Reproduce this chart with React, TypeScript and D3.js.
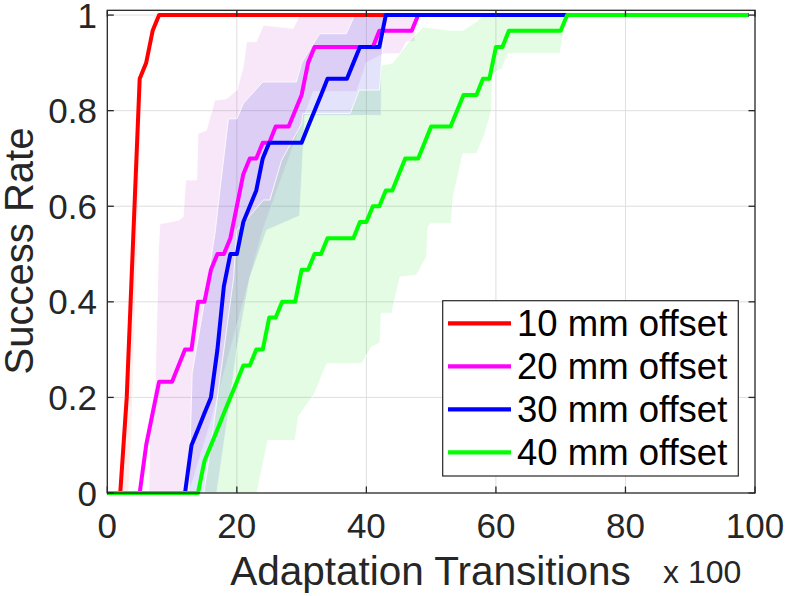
import React from 'react';
import * as d3 from 'd3';

type Pt = [number, number];

const seriesNames = ['10 mm offset', '20 mm offset', '30 mm offset', '40 mm offset'];
const seriesColors = ['#ff0000', '#ff00ff', '#0000ff', '#00ff00'];
const bandColors = ['rgb(255,40,40)', 'rgb(200,60,200)', 'rgb(60,60,230)', 'rgb(40,230,40)'];
const bandOpacity = [0.08, 0.12, 0.14, 0.13];

const xTicks = [0, 20, 40, 60, 80, 100];
const yTicks = [0, 0.2, 0.4, 0.6, 0.8, 1];
const yTickLabels = ['0', '0.2', '0.4', '0.6', '0.8', '1'];

// mean success rate curves (x in units of 100 transitions)
const rate10: Pt[] = [[0, 0], [2, 0], [3, 0.2], [4, 0.533], [5, 0.867], [6, 0.9], [7, 0.967], [8, 1], [99, 1]];
const rate20: Pt[] = [[0, 0], [5, 0], [6, 0.1], [7, 0.167], [8, 0.233], [10, 0.233], [12, 0.3], [13, 0.3], [14, 0.4], [15, 0.4],
  [16, 0.467], [17, 0.5], [18, 0.5], [19, 0.533], [20, 0.6], [21, 0.667], [22, 0.7], [23, 0.7], [24, 0.733], [25, 0.733],
  [26, 0.767], [28, 0.767], [29, 0.8], [30, 0.833], [31, 0.9], [32, 0.933], [41, 0.933], [42, 0.967], [47, 0.967], [48, 1], [99, 1]];
const rate30: Pt[] = [[0, 0], [12, 0], [13, 0.1], [14, 0.133], [15, 0.167], [16, 0.2], [17, 0.3], [18, 0.433], [19, 0.5], [20, 0.5],
  [21, 0.567], [22, 0.6], [23, 0.633], [24, 0.7], [25, 0.733], [30, 0.733], [31, 0.767], [32, 0.8], [33, 0.833], [34, 0.867],
  [37, 0.867], [38, 0.9], [39, 0.933], [42, 0.933], [43, 1], [99, 1]];
const rate40: Pt[] = [[0, 0], [14, 0], [15, 0.067], [16, 0.1], [17, 0.133], [18, 0.167], [19, 0.2], [20, 0.233], [21, 0.267],
  [22, 0.267], [23, 0.3], [24, 0.3], [25, 0.367], [26, 0.367], [27, 0.4], [29, 0.4], [30, 0.467], [31, 0.467], [32, 0.5],
  [33, 0.5], [34, 0.533], [38, 0.533], [39, 0.567], [40, 0.567], [41, 0.6], [42, 0.6], [43, 0.633], [44, 0.633], [46, 0.7],
  [48, 0.7], [50, 0.767], [53, 0.767], [55, 0.833], [57, 0.833], [58, 0.867], [59, 0.867], [60, 0.933], [61, 0.933],
  [62, 0.967], [70, 0.967], [71, 1], [99, 1]];

// spread bands: upper (left) and lower (right) edges
const upper10: Pt[] = [[1.9, 0], [2.9, 0.2], [3.8, 0.52], [4.9, 0.87], [5.8, 0.9], [6.9, 0.98], [7.2, 1]];
const lower10: Pt[] = [[3.3, 0], [3.8, 0.15], [4.6, 0.5], [5.4, 0.87], [6.3, 0.92], [7.3, 0.97], [8, 1]];
const upper20: Pt[] = [[6.4, 0], [6.6, 0.15], [7.4, 0.236], [7.9, 0.508], [8.1, 0.563], [11.1, 0.571], [11.7, 0.578], [12.1, 0.655],
  [13.8, 0.655], [14, 0.752], [15.3, 0.759], [16.6, 0.822], [18.4, 0.825], [20, 0.843], [21, 0.892], [21.5, 0.944], [23, 0.944],
  [24.1, 0.979], [28.7, 0.972], [29.7, 1]];
const lower20: Pt[] = [[12.6, 0], [16, 0.15], [20, 0.35], [24, 0.55], [28, 0.7], [31.8, 0.84], [38.5, 0.84], [40, 0.9], [42.6, 0.919],
  [45.2, 0.919], [46.2, 0.944], [47.5, 0.944], [47.5, 1]];
const upper30: Pt[] = [[12.6, 0], [13.1, 0.25], [15, 0.4], [16.7, 0.55], [17.1, 0.6], [18.7, 0.783], [20, 0.783], [21, 0.815],
  [24, 0.86], [29.2, 0.86], [30, 0.9], [32.8, 0.961], [36.9, 0.961], [38.2, 1]];
const lower30: Pt[] = [[16.9, 0], [18.5, 0.15], [20, 0.3], [22, 0.45], [24.6, 0.55], [29.7, 0.58], [30, 0.66], [30.5, 0.79],
  [42.3, 0.79], [42.3, 0.9], [43, 1]];
const upper40: Pt[] = [[14.9, 0], [16, 0.1], [17.5, 0.25], [19.5, 0.45], [20, 0.55], [22, 0.58], [24.1, 0.613], [25.1, 0.613],
  [26.9, 0.696], [30, 0.773], [30.2, 0.794], [37.5, 0.794], [38.9, 0.843], [42, 0.843], [42.3, 0.895], [44.1, 0.9], [46.7, 0.947],
  [48.8, 0.975], [52.9, 0.968], [54.9, 0.968], [57, 0.986], [58, 1]];
const lower40: Pt[] = [[23.1, 0], [24.8, 0.11], [29, 0.11], [29.5, 0.16], [32, 0.208], [33.9, 0.271], [39.3, 0.271], [40.8, 0.306],
  [42.1, 0.314], [42.3, 0.376], [43.9, 0.376], [45.2, 0.452], [47.7, 0.456], [49.3, 0.494], [49.5, 0.557], [50, 0.564],
  [53.1, 0.564], [53.4, 0.62], [54.9, 0.71], [57, 0.71], [58.3, 0.752], [59.3, 0.8], [59.5, 0.877], [60.9, 0.888], [61.9, 0.92],
  [69.9, 0.92], [70.9, 1]];

const rates = [rate10, rate20, rate30, rate40];
const uppers = [upper10, upper20, upper30, upper40];
const lowers = [lower10, lower20, lower30, lower40];

const W = 787;
const H = 596;
const left = 107.3;
const right = 755;
const top = 10.3;
const bottom = 493;
const font = 'Liberation Sans, Arial, sans-serif';
const axisColor = '#262626';

export default function App() {
  const x = d3.scaleLinear().domain([0, 100]).range([left, right]);
  const y = d3.scaleLinear().domain([0, 1.01]).range([bottom, top]);
  const line = d3.line<Pt>().x(d => x(d[0])).y(d => y(d[1]));

  const bandPath = (up: Pt[], lo: Pt[]) => {
    const pts: Pt[] = [...up, [up[up.length - 1][0], 1], [lo[lo.length - 1][0], 1], ...lo.slice().reverse()];
    return line(pts) + 'Z';
  };

  const tick = 6.5;

  return (
    <svg width={W} height={H} style={{ position: 'absolute', left: 0, top: 0, display: 'block' }} fontFamily={font}>
      <rect width={W} height={H} fill="#fff" />

      {/* grid */}
      {xTicks.slice(1, -1).map(t => (
        <line key={'gx' + t} x1={x(t)} x2={x(t)} y1={top} y2={bottom} stroke="#dedede" strokeWidth={1} />
      ))}
      {yTicks.slice(1).map(t => (
        <line key={'gy' + t} x1={left} x2={right} y1={y(t)} y2={y(t)} stroke="#dedede" strokeWidth={1} />
      ))}

      {/* bands */}
      {uppers.map((up, i) => (
        <path key={'b' + i} d={bandPath(up, lowers[i])} fill={bandColors[i]} fillOpacity={bandOpacity[i]}
          stroke="#fff" strokeWidth={0.9} strokeOpacity={0.9} />
      ))}

      {/* mean curves */}
      {rates.map((r, i) => (
        <path key={'l' + i} d={line(r) || ''} fill="none" stroke={seriesColors[i]} strokeWidth={4} strokeLinejoin="round" />
      ))}

      {/* axes box and ticks */}
      <rect x={left} y={top} width={right - left} height={bottom - top} fill="none" stroke={axisColor} strokeWidth={1.3} />
      {xTicks.map(t => (
        <g key={'tx' + t}>
          <line x1={x(t)} x2={x(t)} y1={bottom} y2={bottom - tick} stroke={axisColor} strokeWidth={1.3} />
          <line x1={x(t)} x2={x(t)} y1={top} y2={top + tick} stroke={axisColor} strokeWidth={1.3} />
          <text x={x(t)} y={538} textAnchor="middle" fontSize={35} fill={axisColor}>{t}</text>
        </g>
      ))}
      {yTicks.map((t, i) => (
        <g key={'ty' + t}>
          <line x1={left} x2={left + tick} y1={y(t)} y2={y(t)} stroke={axisColor} strokeWidth={1.3} />
          <line x1={right} x2={right - tick} y1={y(t)} y2={y(t)} stroke={axisColor} strokeWidth={1.3} />
          <text x={97} y={y(t) + 12.5} textAnchor="end" fontSize={35} fill={axisColor}>{yTickLabels[i]}</text>
        </g>
      ))}

      {/* axis labels */}
      <text x={430.5} y={585} textAnchor="middle" fontSize={40.5} fill={axisColor}>Adaptation Transitions</text>
      <text x={663} y={583} fontSize={32} fill={axisColor}>x 100</text>
      <text transform="translate(33,251) rotate(-90)" textAnchor="middle" fontSize={40} fill={axisColor}>Success Rate</text>

      {/* legend */}
      <rect x={442.7} y={300.7} width={295.6} height={175.3} fill="#fff" stroke={axisColor} strokeWidth={1.2} />
      {seriesNames.map((n, i) => {
        const ly = 323.3 + i * 43;
        return (
          <g key={'lg' + i}>
            <line x1={448} x2={511} y1={ly} y2={ly} stroke={seriesColors[i]} strokeWidth={4.3} />
            <text x={517} y={ly + 13} fontSize={36.5} fill="#000">{n}</text>
          </g>
        );
      })}
    </svg>
  );
}
